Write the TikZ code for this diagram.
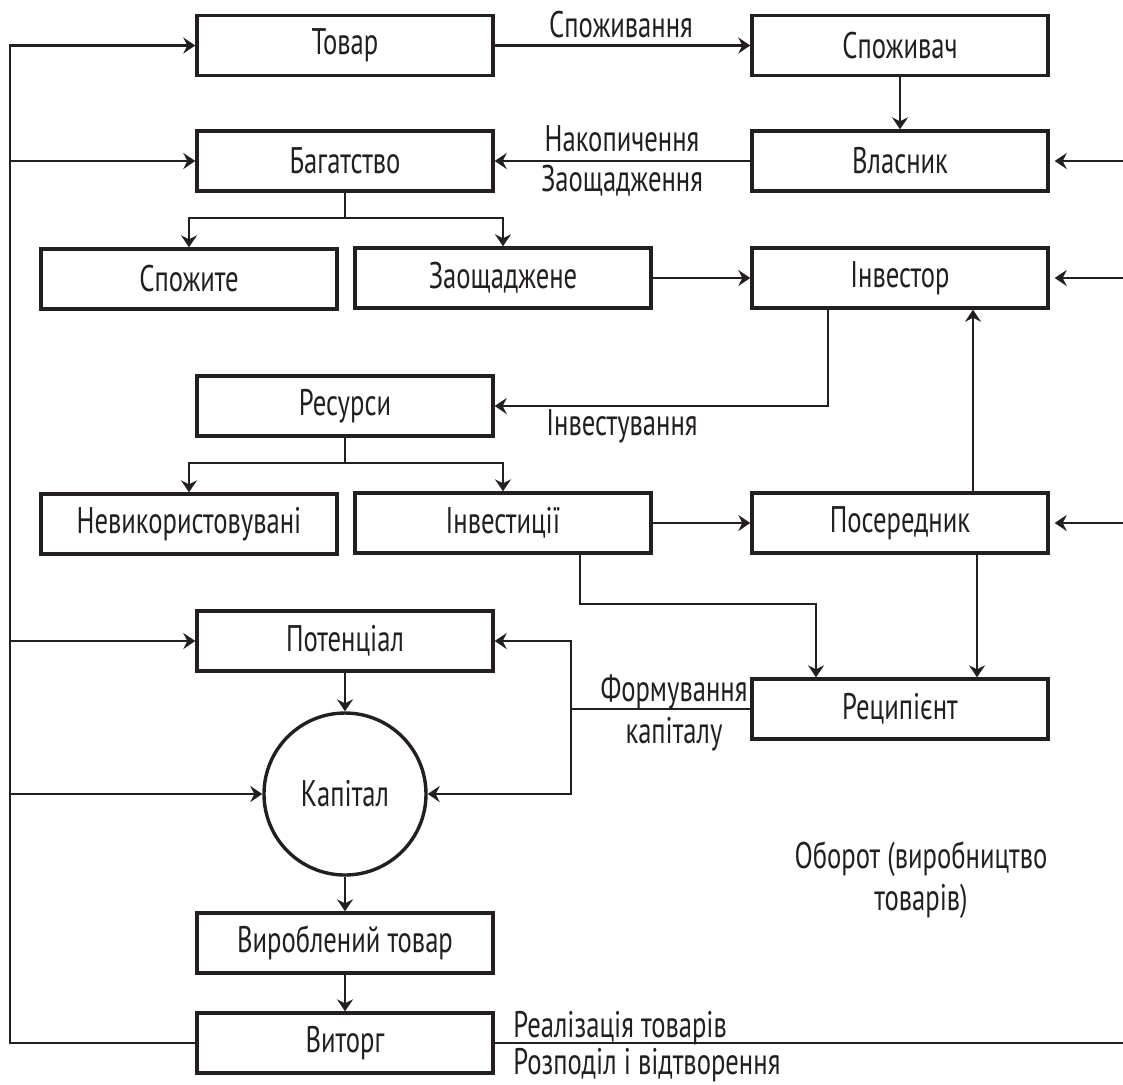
\documentclass[tikz,border=0pt]{standalone}
\usepackage{fontspec}
\setmainfont[FakeStretch=0.72]{PT Sans}
\usetikzlibrary{arrows.meta,positioning,calc}
\definecolor{ink}{HTML}{231F20}

\begin{document}
\begin{tikzpicture}[
  x=0.5pt, y=-0.5pt,
  every node/.style={font=\fontsize{18.5}{21}\selectfont, text=ink},
  box/.style={draw=ink, line width=1.7pt, minimum width=148pt, minimum height=30pt, inner sep=0pt},
  roundbox/.style={draw=ink, line width=1.7pt, circle, minimum size=81pt, inner sep=0pt},
  lbl/.style={inner sep=0pt, align=center},
  conn/.style={draw=ink, line width=1.1pt, -{Stealth[length=6pt,width=8pt,inset=2pt]}},
  plain/.style={draw=ink, line width=1.1pt}
]
\useasboundingbox (0,0) rectangle (1123,1084);

% boxes
\node[box] (tovar)       at (345,45.5) {Товар};
\node[box] (spozhyvach)  at (900,45.5) {Споживач};
\node[box] (bagatstvo)   at (345,161)  {Багатство};
\node[box] (vlasnyk)     at (900,161)  {Власник};
\node[box] (spozhyte)    at (189,279)  {Спожите};
\node[box] (zaoshch)     at (503,278)  {Заощаджене};
\node[box] (investor)    at (900,278)  {Інвестор};
\node[box] (resursy)     at (345,406)  {Ресурси};
\node[box] (nevykor)     at (189,524)  {Невикористовувані};
\node[box] (investytsii) at (503,523)  {Інвестиції};
\node[box] (poserednyk)  at (900,523)  {Посередник};
\node[box] (potentsial)  at (345,641)  {Потенціал};
\node[box] (retsypient)  at (900,709)  {Реципієнт};
\node[roundbox] (kapital) at (345,794) {Капітал};
\node[box] (vyroblenyi)  at (345,943)  {Вироблений товар};
\node[box] (vytorg)      at (345,1043) {Виторг};

% labels
\node[lbl] (spozhyvannia) at (621,25)   {Споживання};
\node[lbl] (nakopychennia) at (622,139) {Накопичення};
\node[lbl] (zaoshchadzh)  at (622,181)  {Заощадження};
\node[lbl] (investuvannia) at (622,426) {Інвестування};
\node[lbl] (formuvannia)  at (674,692)  {Формування};
\node[lbl] (kapitalu)     at (674,734)  {капіталу};
\node[lbl] (oborot)       at (921,880)  {Оборот (виробництво\\товарів)};
\node[lbl, anchor=west] (realizatsiia) at (513,1028) {Реалізація товарів};
\node[lbl, anchor=west] (rozpodil)     at (513,1065) {Розподіл і відтворення};

% helper points
\coordinate (bus)  at (10,500);
\coordinate (edge) at (1123,0);
\coordinate (fork) at (571,709);

% connectors
\draw[conn] (tovar) -- (spozhyvach);
\draw[conn] (spozhyvach) -- (vlasnyk);
\draw[conn] (vlasnyk) -- (bagatstvo);
\draw[conn] (bagatstvo.south) -- ++(0,25) -| (spozhyte.north);
\draw[conn] (bagatstvo.south) -- ++(0,25) -| (zaoshch.north);
\draw[conn] (zaoshch) -- (investor);
\draw[conn] ([xshift=-36pt]investor.south) |- (resursy.east);
\draw[conn] (resursy.south) -- ++(0,25) -| (nevykor.north);
\draw[conn] (resursy.south) -- ++(0,25) -| (investytsii.north);
\draw[conn] (investytsii) -- (poserednyk);
\draw[conn] ([xshift=36.5pt]poserednyk.north) -- ([xshift=36.5pt]investor.south);
\draw[conn] ([xshift=38.5pt]poserednyk.south) -- ([xshift=38.5pt]retsypient.north);
\draw[conn] ([xshift=38.5pt]investytsii.south) -- ++(0,49) -| ([xshift=-42pt]retsypient.north);
\draw[conn] (retsypient.west) -- (fork) |- (potentsial.east);
\draw[conn] (fork) |- (kapital.east);
\draw[conn] (potentsial) -- (kapital);
\draw[conn] (kapital) -- (vyroblenyi);
\draw[conn] (vyroblenyi) -- (vytorg);

% left loop
\draw[conn] (vytorg.west) -| (bus) |- (tovar.west);
\draw[conn] (bagatstvo.west -| bus) -- (bagatstvo.west);
\draw[conn] (potentsial.west -| bus) -- (potentsial.west);
\draw[conn] (kapital.west -| bus) -- (kapital.west);

% inputs from the right edge
\draw[conn, shorten >=2.5pt] (vlasnyk.east -| edge) -- (vlasnyk.east);
\draw[conn, shorten >=2.5pt] (investor.east -| edge) -- (investor.east);
\draw[conn, shorten >=2.5pt] (poserednyk.east -| edge) -- (poserednyk.east);
\draw[plain] (vytorg.east) -- (vytorg.east -| edge);
\end{tikzpicture}
\end{document}
